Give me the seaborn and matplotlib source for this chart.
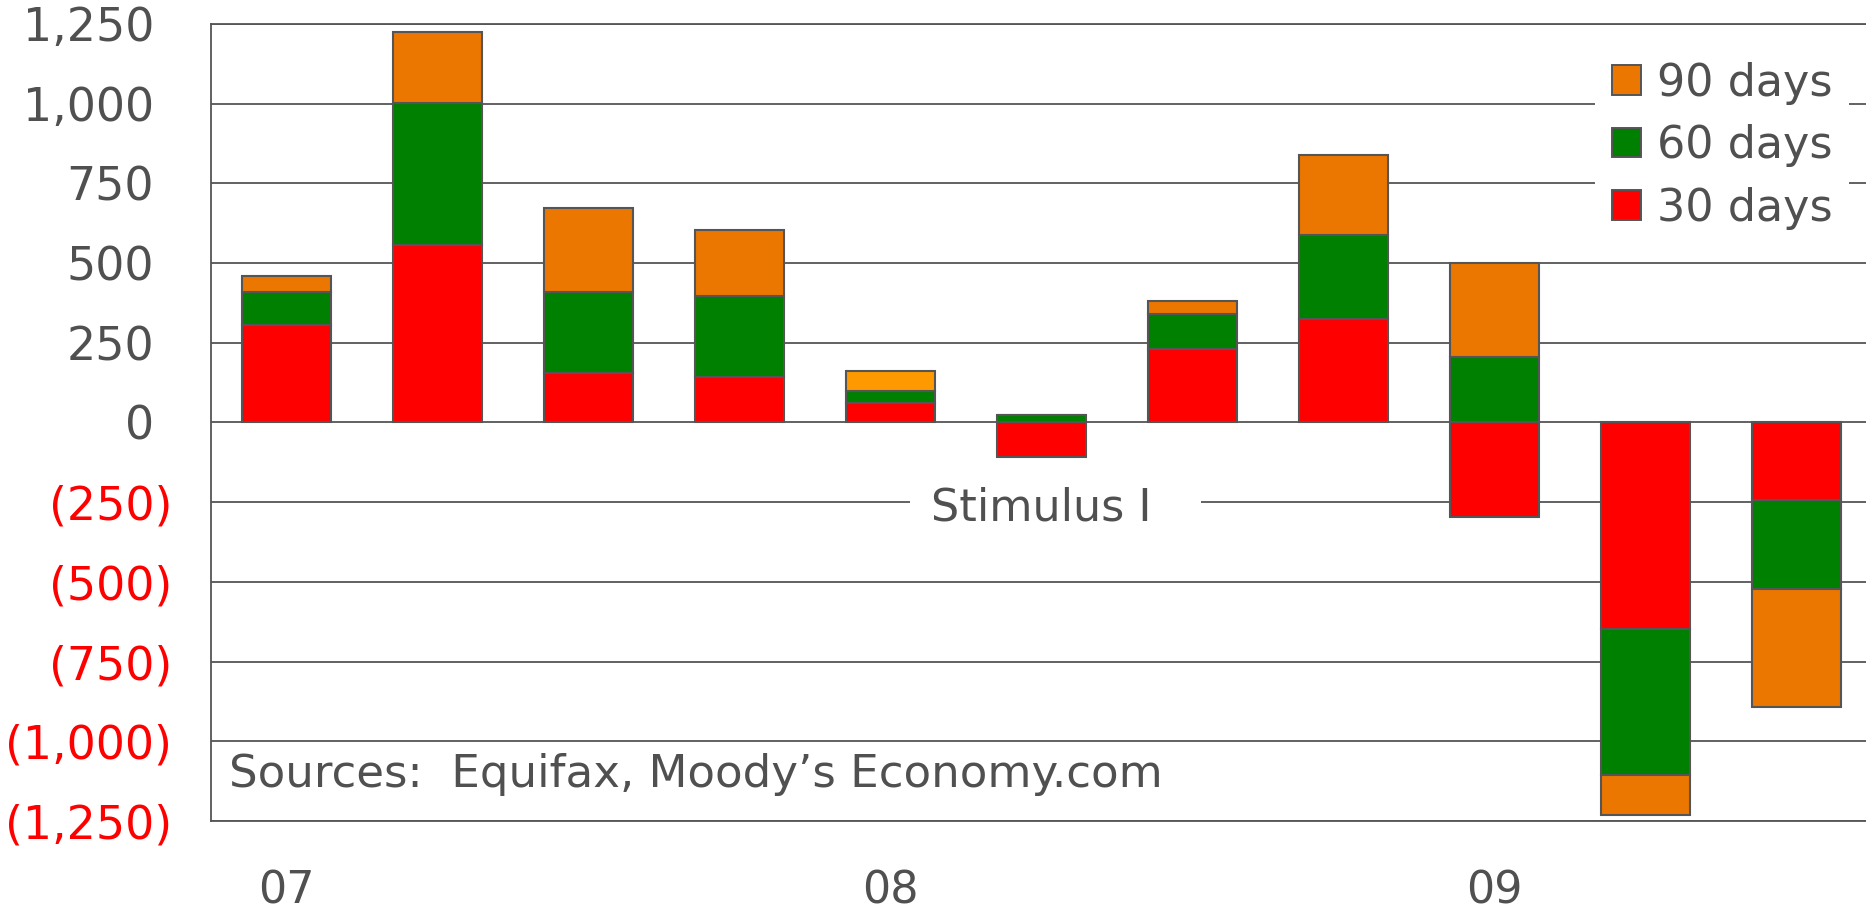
import seaborn as sns
import matplotlib.pyplot as plt
from matplotlib.patches import Patch
import numpy as np
import pandas as pd

# quarterly change, 07Q1 .. 09Q3
quarters = ['07Q1', '07Q2', '07Q3', '07Q4', '08Q1', '08Q2', '08Q3', '08Q4',
            '09Q1', '09Q2', '09Q3']
days30 = [305, 557, 156, 142, 62, -107, 230, 324, -297, -647, -244]
days60 = [105, 445, 254, 254, 36, 24, 110, 265, 205, -460, -279]
days90 = [50, 222, 262, 208, 65, 0, 42, 251, 296, -124, -369]
year_labels = ['07', '08', '09']
year_pos = [0, 4, 8]
yticks = [1250, 1000, 750, 500, 250, 0, -250, -500, -750, -1000, -1250]

GREY = '#555555'
TXT = '#505050'
colors = {'30 days': '#FF0000', '60 days': '#008000', '90 days': '#EB7700'}

df = pd.DataFrame({'quarter': quarters, '30 days': days30,
                   '60 days': days60, '90 days': days90})

sns.set_style('white')
plt.rcParams['font.family'] = ['DejaVu Sans']

fig = plt.figure(figsize=(18.66, 9.11), dpi=100)
ax = fig.add_axes([0.1131, 0.0988, 0.8901, 0.8749])

pos_base = np.zeros(len(df))
neg_base = np.zeros(len(df))
for layer in ['30 days', '60 days', '90 days']:
    vals = df[layer].to_numpy(dtype=float)
    bottom = np.where(vals >= 0, pos_base, neg_base)
    sns.barplot(data=df, x='quarter', y=layer, order=quarters, bottom=bottom,
                color=colors[layer], saturation=1, width=0.59, errorbar=None,
                edgecolor=GREY, linewidth=1.5, ax=ax)
    pos_base += np.where(vals > 0, vals, 0)
    neg_base += np.where(vals < 0, vals, 0)

# 08Q1 top segment is a lighter orange in the original
ax.containers[-1][4].set_facecolor('#FF9900')

ax.set_ylim(-1250, 1250)
ax.set_xlim(-0.5, 10.5)
ax.set_yticks(yticks)
ax.set_yticklabels([])
ax.set_axisbelow(True)
ax.grid(axis='y', color=GREY, linewidth=1.3)
ax.tick_params(axis='y', direction='out', length=10, width=1.3, color=GREY)

# y labels: positive in grey, negative in red parentheses (digits aligned)
for v in yticks:
    if v >= 0:
        ax.text(-0.0343, v, f'{v:,}', transform=ax.get_yaxis_transform(),
                ha='right', va='center_baseline', fontsize=33, color=TXT)
    else:
        ax.text(-0.0235, v, f'({-v:,})', transform=ax.get_yaxis_transform(),
                ha='right', va='center_baseline', fontsize=33, color='#FF0000')

ax.set_xticks(np.arange(-0.5, 11, 1))
ax.set_xticklabels([])
ax.set_xticks(year_pos, labels=year_labels, minor=True)
ax.tick_params(axis='x', which='major', direction='inout', length=21,
               width=1.3, color=GREY)
ax.tick_params(axis='x', which='minor', length=0, pad=35, labelsize=32,
               labelcolor=TXT)
ax.set_xlabel('')
ax.set_ylabel('')

for side in ['left', 'bottom', 'top']:
    ax.spines[side].set_color(GREY)
    ax.spines[side].set_linewidth(1.3)
ax.spines['right'].set_visible(False)

ax.text(4.268, -268, 'Stimulus I  ', ha='left', va='center', fontsize=32,
        color=TXT, bbox=dict(facecolor='white', edgecolor='none', pad=15))
ax.text(0.0107, -1144, 'Sources:  Equifax, Moody\u2019s Economy.com',
        transform=ax.get_yaxis_transform(), ha='left', va='baseline',
        fontsize=32.5, color=TXT)

handles = [Patch(facecolor=colors[k], edgecolor=GREY, linewidth=1.4, label=k)
           for k in ['90 days', '60 days', '30 days']]
leg = ax.legend(handles=handles, loc='upper right', bbox_to_anchor=(0.991, 0.951),
                bbox_transform=fig.transFigure, borderaxespad=0, fontsize=32,
                handlelength=0.65, handleheight=0.65, handletextpad=0.36,
                labelspacing=0.44, borderpad=0.38, frameon=True, fancybox=False,
                framealpha=1)
leg.get_frame().set_edgecolor('none')
leg.get_frame().set_facecolor('white')
for t in leg.get_texts():
    t.set_color(TXT)

fig.savefig('out.png', dpi=100)
